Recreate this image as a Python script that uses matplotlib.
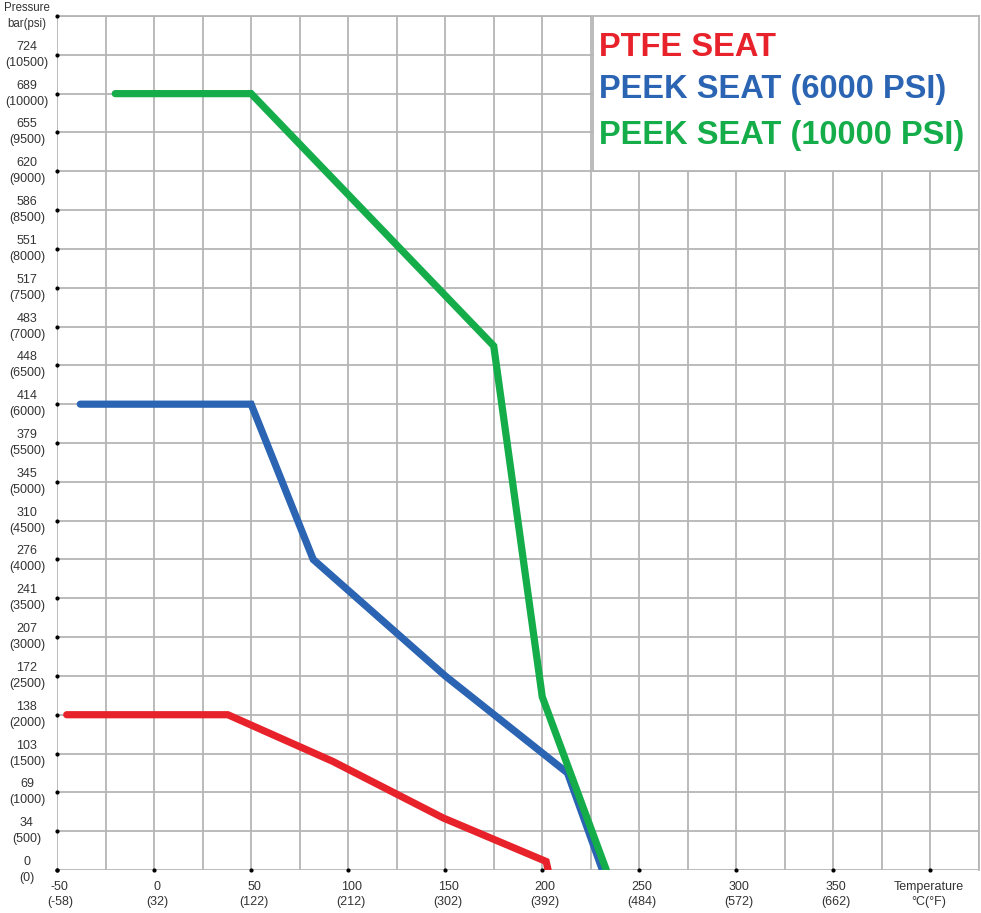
import matplotlib
matplotlib.use('Agg')
import matplotlib.pyplot as plt
import numpy as np

plt.rcParams['font.family'] = ['Liberation Sans Narrow', 'Liberation Sans', 'DejaVu Sans']

#%% data (temperature °C, pressure psi)
ptfe_t = [-45, 38, 92, 149, 202, 203]
ptfe_p = [2000, 2000, 1400, 670, 110, 0]

peek6_t = [-38, 50, 82, 150, 213, 231]
peek6_p = [6000, 6000, 4000, 2500, 1250, 0]

peek10_t = [-20, 50, 175, 200, 233]
peek10_p = [10000, 10000, 6750, 2230, 0]

series_names = ['PTFE SEAT', 'PEEK SEAT (6000 PSI)', 'PEEK SEAT (10000 PSI)']
series_colors = ['#e8222b', '#2a64b2', '#14ad4a']

y_psi = list(range(0, 11000, 500))
y_bar = ['0', '34', '69', '103', '138', '172', '207', '241', '276', '310', '345',
         '379', '414', '448', '483', '517', '551', '586', '620', '655', '689', '724']
x_c = [-50, 0, 50, 100, 150, 200, 250, 300, 350]
x_f = ['-58', '32', '122', '212', '302', '392', '484', '572', '662']

#%% figure
fig = plt.figure(figsize=(9.81, 9.13), dpi=100)
ax = fig.add_axes([57/981, 43/913, 922/981, 854/913])
ax.set_xlim(-50, 425)
ax.set_ylim(0, 11000)

gridc = '#b5b5b5'
ax.set_xticks(np.arange(-50, 426, 25))
ax.set_yticks(np.arange(0, 11001, 500))
ax.grid(True, color=gridc, lw=1.3)
ax.tick_params(length=0, labelleft=False, labelbottom=False)
for s in ax.spines.values():
    s.set_visible(False)
ax.axhline(11000, color=gridc, lw=1.3, clip_on=False)
ax.axvline(425, color=gridc, lw=1.3, clip_on=False)
ax.set_axisbelow(True)

# tick dots
ax.plot(x_c + [400], [0]*10, 'k.', ms=4, clip_on=False, zorder=5)
ax.plot([-50]*23, y_psi + [11000], 'k.', ms=4, clip_on=False, zorder=5)

# tick labels
txtc = '#333333'
for p, b in zip(y_psi, y_bar):
    ax.text(-65.5, p, '%s\n(%d)' % (b, p), ha='center', va='center', fontsize=9,
            color=txtc, linespacing=1.45, clip_on=False)
ax.text(-65.5, 11000, 'Pressure\nbar(psi)', ha='center', va='center', fontsize=8.3,
        color=txtc, linespacing=1.35, clip_on=False)
for c, f in zip(x_c, x_f):
    ax.text(c + 1.5, -140, '%d\n(%s)' % (c, f), ha='center', va='top', fontsize=9,
            color=txtc, linespacing=1.4, clip_on=False)
ax.text(399, -140, 'Temperature\n°C(°F)', ha='center', va='top', fontsize=9,
        color=txtc, linespacing=1.4, clip_on=False)

# lines
for t, p, col in [(ptfe_t, ptfe_p, series_colors[0]),
                  (peek6_t, peek6_p, series_colors[1]),
                  (peek10_t, peek10_p, series_colors[2])]:
    ax.plot(t, p, color=col, lw=5.2, solid_capstyle='round', solid_joinstyle='miter', zorder=3)

# legend box
ax.add_patch(plt.Rectangle((226, 9000), 199, 2000, facecolor='white', edgecolor=gridc,
                           lw=1.3, zorder=4))
for yy, name, col in zip([10590, 10050, 9460], series_names, series_colors):
    ax.text(229, yy, name, color=col, fontsize=23.5, fontweight='bold',
            family=['Liberation Sans', 'DejaVu Sans'], ha='left', va='center', zorder=5)

fig.savefig('out.png', dpi=100)
